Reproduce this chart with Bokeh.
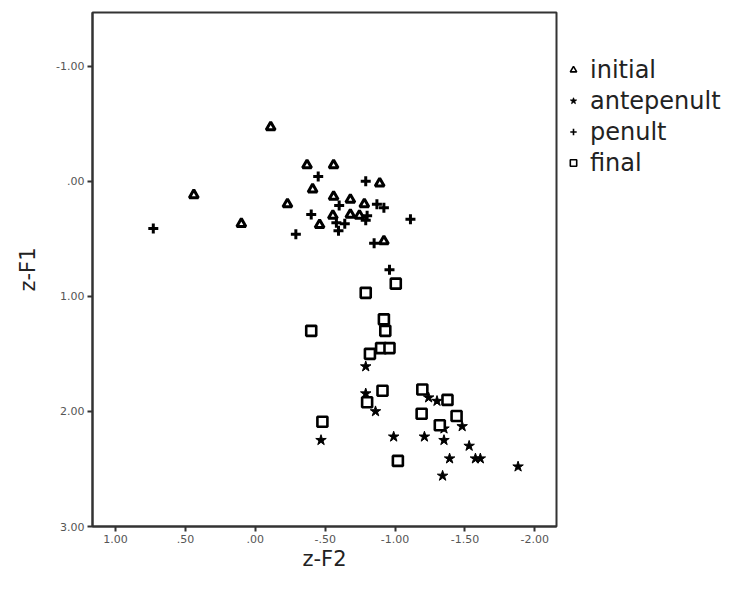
from bokeh.plotting import figure
from bokeh.models import Range1d, Legend, LegendItem, FixedTicker
from bokeh.layouts import row
from bokeh.embed import file_html
from bokeh.resources import INLINE

# ---- data (z-F2, z-F1) ----
initial_x = [-0.11, 0.44, 0.10, -0.23, -0.37, -0.56, -0.41, -0.46, -0.56, -0.68,
             -0.78, -0.89, -0.555, -0.68, -0.745, -0.92]
initial_y = [-0.47, 0.12, 0.37, 0.20, -0.14, -0.14, 0.07, 0.38, 0.135, 0.16,
             0.20, 0.02, 0.30, 0.29, 0.30, 0.52]

antepenult_x = [-0.79, -0.79, -0.86, -0.47, -0.99, -1.24, -1.30, -1.35, -1.48,
                -1.21, -1.35, -1.53, -1.39, -1.575, -1.61, -1.34, -1.88]
antepenult_y = [1.61, 1.845, 2.00, 2.25, 2.22, 1.88, 1.91, 2.15, 2.13,
                2.22, 2.25, 2.30, 2.41, 2.41, 2.41, 2.56, 2.48]

penult_x = [0.73, -0.45, -0.40, -0.29, -0.60, -0.79, -0.87, -0.92, -1.11,
            -0.58, -0.595, -0.80, -0.64, -0.79, -0.85, -0.96]
penult_y = [0.41, -0.04, 0.29, 0.46, 0.21, 0.00, 0.20, 0.23, 0.33,
            0.36, 0.43, 0.30, 0.37, 0.34, 0.54, 0.77]

final_x = [-1.005, -0.79, -0.92, -0.93, -0.40, -0.90, -0.96, -0.82, -0.91,
           -0.80, -0.48, -1.02, -1.195, -1.375, -1.19, -1.44, -1.32]
final_y = [0.89, 0.97, 1.20, 1.30, 1.30, 1.45, 1.45, 1.50, 1.82,
           1.92, 2.09, 2.43, 1.81, 1.90, 2.02, 2.04, 2.12]

series_labels = ["initial", "antepenult", "penult", "final"]

x_ticks = [1.0, 0.5, 0.0, -0.5, -1.0, -1.5, -2.0]
x_tick_labels = ["1.00", ".50", ".00", "-.50", "-1.00", "-1.50", "-2.00"]
y_ticks = [-1.0, 0.0, 1.0, 2.0, 3.0]
y_tick_labels = ["-1.00", ".00", "1.00", "2.00", "3.00"]

FONT = "DejaVu Sans"
H = 573

p = figure(width=558, height=H, output_backend="svg", toolbar_location=None,
           x_range=Range1d(1.165, -2.155), y_range=Range1d(3.0, -1.466),
           min_border_left=92, min_border_right=2, min_border_top=12,
           min_border_bottom=44)
p.grid.visible = False
p.background_fill_color = "white"
p.border_fill_color = "white"
p.outline_line_color = "#333333"
p.outline_line_width = 2

for ax, ticks, labels in ((p.xaxis[0], x_ticks, x_tick_labels), (p.yaxis[0], y_ticks, y_tick_labels)):
    ax.ticker = FixedTicker(ticks=ticks)
    ax.major_label_overrides = {t: l for t, l in zip(ticks, labels)}
    ax.minor_tick_line_color = None
    ax.major_tick_in = 0
    ax.major_tick_out = 5
    ax.major_tick_line_width = 2
    ax.major_tick_line_color = "#333333"
    ax.axis_line_color = "#333333"
    ax.axis_line_width = 2
    ax.major_label_text_font = FONT
    ax.major_label_text_font_size = "11px"
    ax.major_label_text_color = "#555555"
    ax.axis_label_text_font = FONT
    ax.axis_label_text_font_size = "21px"
    ax.axis_label_text_font_style = "normal"
    ax.axis_label_text_color = "#222222"

p.xaxis.axis_label = "z-F2"
p.yaxis.axis_label = "z-F1"
p.xaxis.axis_label_standoff = 1
p.yaxis.axis_label_standoff = 13
p.xaxis.major_label_standoff = 3
p.yaxis.major_label_standoff = 3

styles = [
    dict(marker="triangle", size=9, fill_color="white", line_color="black", line_width=3),
    dict(marker="star", size=11, fill_color="black", line_color="black", line_width=1),
    dict(marker="cross", size=10, line_color="black", line_width=3),
    dict(marker="square", size=10, fill_color="white", line_color="black", line_width=2.6),
]
data = [(initial_x, initial_y), (antepenult_x, antepenult_y),
        (penult_x, penult_y), (final_x, final_y)]
for (xs, ys), st in zip(data, styles):
    p.scatter(xs, ys, **st)

# ---- legend panel ----
lf = figure(width=725 - 558, height=H, output_backend="svg", toolbar_location=None,
            x_range=Range1d(0, 1), y_range=Range1d(0, 1),
            min_border_left=0, min_border_right=0, min_border_top=0, min_border_bottom=0)
lf.axis.visible = False
lf.grid.visible = False
lf.outline_line_color = None
lf.background_fill_color = "white"
lf.border_fill_color = "white"

items = []
for lab, st in zip(series_labels, styles):
    st2 = dict(st)
    st2["line_width"] = min(st["line_width"], 1.6)
    r = lf.scatter([-10], [-10], **st2)   # off-screen: only feeds the legend glyph
    items.append(LegendItem(label=lab, renderers=[r]))

legend = Legend(items=items, location=(7, 348))
legend.border_line_color = None
legend.background_fill_alpha = 0
legend.margin = 0
legend.padding = 7
legend.spacing = 0
legend.glyph_width = 16
legend.glyph_height = 31
legend.label_height = 31
legend.label_standoff = 9
legend.label_text_font = FONT
legend.label_text_font_size = "24px"
legend.label_text_color = "#222222"
lf.add_layout(legend)

layout = row(p, lf)
open("out.html", "w").write(file_html(layout, INLINE))
